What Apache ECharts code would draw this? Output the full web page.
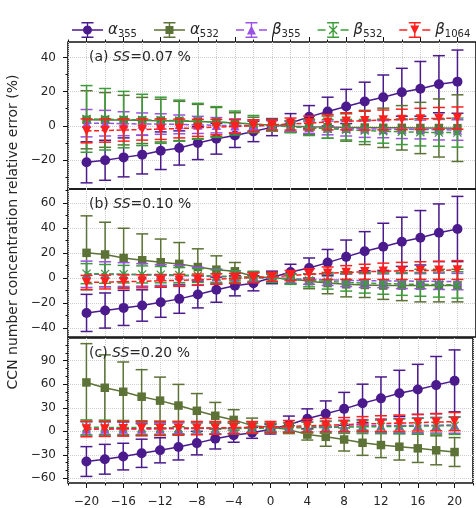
<!DOCTYPE html>
<html>
<head>
<meta charset="utf-8">
<script src="https://cdn.jsdelivr.net/npm/echarts@6/dist/echarts.min.js"></script>
<style>
html,body{margin:0;padding:0;background:#fff;}
#chart{width:476px;height:508px;}
</style>
</head>
<body>
<div id="chart"></div>
<script>
// x positions (shared by all panels)
var xVals = [-20,-18,-16,-14,-12,-10,-8,-6,-4,-2,0,2,4,6,8,10,12,14,16,18,20];
var xMajor = [-20,-16,-12,-8,-4,0,4,8,12,16,20];

// (a) SS=0.07 %
var a355_a   = [-21.4,-20.2,-18.5,-16.9,-14.6,-13.0,-10.1,-7.6,-5.7,-3.3,-0.8,1.6,5.2,8.3,11.3,14.2,16.7,19.6,21.6,24.3,25.8];
var a355_a_e = [12,11.7,11.4,11.3,11,10,9.7,9,7,6,5,5.5,6.6,8.4,10,11.3,13,14,16,16.7,18.5];
var a532_a   = [3.5,3.4,3.3,3.1,3,2.8,2.5,2.2,1.6,1,0.3,-0.3,-0.6,-0.8,-1,-1,-1.2,-1.2,-1.3,-1.3,-1.4];
var a532_a_e = [17,16,14.5,13.5,12.5,11.5,10,8.5,6,4,3,3,4.5,6.5,8,10,11.5,13,15,17,19.5];
var b355_a   = [1.5,1.5,1.2,1,1,0.8,0.5,0.3,0,0,0,-0.5,-1,-1.3,-1.5,-1.8,-2,-2,-2.2,-2.3,-2.5];
var b355_a_e = [8,7.5,7,6.5,6,5.5,5,4.5,4,3.5,3,3,3.5,4,4.5,5,5,5.5,5.5,6,6];
var b532_a   = [4,3.8,3.6,3.4,3.2,3,2.6,2.2,1.6,1,0.3,-0.5,-1.2,-1.8,-2.3,-2.8,-3.2,-3.5,-3.8,-4,-4];
var b532_a_e = [19.5,18,16.5,15,13.5,12,10.5,9,7,5,3.5,3.5,4.5,5.5,6,6.5,7,7.5,8,8,8.5];
var b1064_a   = [-3,-2.8,-2.5,-2.2,-2,-1.6,-1.2,-0.8,-0.4,0,0.5,1,1.6,2.1,2.6,3,3.4,3.7,4,4.3,4.5];
var b1064_a_e = [7,6.8,6.5,6.2,6,5.5,5,4.5,4,3.5,3,3.5,4,4.5,5,5.5,5.8,6,6.2,6.4,6.5];

// (b) SS=0.10 %
var a355_b   = [-27.8,-25.9,-23.8,-21.9,-19.3,-16.6,-13.1,-9.3,-6.2,-4.2,0.5,4.8,8.0,12.3,16.9,21.4,24.9,28.9,32.1,36.1,39.1];
var a355_b_e = [14.8,14,14,12.5,12,11.5,10.7,10,8,6,5,6.2,8,10.5,13.4,15.6,18.8,19.6,21.7,23,26];
var a532_b   = [20.1,18.8,16,14.2,12.6,11.3,8.8,6.7,5.4,1.4,0,-0.5,-2.5,-4,-5,-5.5,-6,-6,-6,-6,-6];
var a532_b_e = [29.5,25.7,23.7,21,18.5,17,14.5,11,7,4,3,4,6,8.5,10,10,11,12,13,13,13];
var b355_b   = [3,3,2.8,2.5,2.2,2,1.6,1.2,0.8,0.4,0,-0.5,-1,-1.4,-1.8,-2,-2.2,-2.4,-2.5,-2.6,-2.8];
var b355_b_e = [10.5,10,9.5,9,8.5,8,7,6,5,4,3,3.5,4,4.5,5,5.5,5.5,6,6,6.5,6.5];
var b532_b   = [3.5,3.3,3.1,2.9,2.7,2.4,2,1.6,1.2,0.6,0,-1,-2,-2.8,-3.4,-4,-4.4,-4.8,-5,-5.2,-5.5];
var b532_b_e = [8,7.5,7,6.8,6.5,6,5.5,5,4.5,4,3.5,4,5,6,7,8,8.5,9,9.5,10,10.5];
var b1064_b   = [-3.5,-3.2,-2.9,-2.6,-2.2,-1.8,-1.3,-0.8,-0.3,0.3,1,2,3,3.8,4.4,5,5.4,5.7,6,6.2,6.4];
var b1064_b_e = [5.6,5.5,5.4,5.2,5,4.8,4.5,4.2,4,3.8,3.5,4,4.5,5,5.5,6,6.5,6.8,7,7.2,7.5];

// (c) SS=0.20 %
var a355_c   = [-38.6,-35.7,-32.3,-28.1,-24.3,-20.1,-15.1,-9.6,-5.0,-2.0,2.5,8.4,16,22.3,28.6,35.7,42,48.4,53.4,58.9,64.3];
var a355_c_e = [19,19,17,18,16,16.5,15,13,9,7,6,11,12.6,16.4,21,24.4,27.3,29.4,32,36.5,39.5];
var a532_c   = [62.3,55.5,50.4,44.1,39.1,32.8,26.1,19.8,14.5,7.2,5,2.1,-4.2,-7.1,-10.5,-14.7,-17.6,-19.7,-21.8,-24.3,-26.5];
var a532_c_e = [49.5,42,38,34.5,30,27,22,17,13,9.6,5,5,7,12,14.7,16,16,17,18,18.5,18.4];
var b355_c   = [3,3,3,3,3,3.2,3.4,3.6,3.8,4,4.5,5,5.5,6,6.5,7,7.2,7.4,7.6,7.8,8];
var b355_c_e = [9,8.8,8.5,8.2,8,7.6,7.2,6.8,6.4,6,5.5,6,6.5,7,7.5,8,8.5,9,9.5,10,10.5];
var b532_c   = [5,5,4.8,4.6,4.4,4.2,4,3.8,3.6,3.8,4,4.3,4.6,5,5.3,5.6,5.9,6.2,6.5,6.8,7];
var b532_c_e = [9.5,9.2,9,8.8,8.5,8.2,7.8,7.4,7,6.5,6,6.5,7,7.5,8,8.5,9,9.5,10,10.5,11];
var b1064_c   = [2.8,3,3.2,3.4,3.6,3.8,4,4.3,4.6,5,5.5,6.2,7,7.8,8.5,9.2,9.8,10.4,11,11.6,12.4];
var b1064_c_e = [9.8,9.6,9.4,9.2,9,8.8,8.5,8.2,7.8,7.4,7,7.5,8,8.5,9,9.5,10,10.3,10.6,11,11.5];

// y tick values per panel
var yMajor_a = [-20,0,20,40];
var yMinor_a = [-30,-10,10,30];
var yMajor_b = [-40,-20,0,20,40,60];
var yMinor_b = [-30,-10,10,30,50,70];
var yMajor_c = [-60,-30,0,30,60,90];
var yMinor_c = [-50,-40,-20,-10,10,20,40,50,70,80,100,110];

var FONT = 'DejaVu Sans';
var TXT = '#262626';
var GRIDC = '#cfcfcf';

var meta = [
	{name: 'a355',  color: '#4b1a8c', symbol: 'circle', size: 10, rot: 0, dash: false, sub: '355', g: 'α'},
	{name: 'a532',  color: '#5c7236', symbol: 'rect', size: 8.5, rot: 0, dash: false, sub: '532', g: 'α'},
	{name: 'b355',  color: '#9b50e6', symbol: 'triangle', size: 9.5, rot: 0, dash: true, sub: '355', g: 'β'},
	{name: 'b532',  color: '#3c9c3c', symbol: 'path://M0,1L1,0L5,4L9,0L10,1L6,5L10,9L9,10L5,6L1,10L0,9L4,5Z', size: 9, rot: 0, dash: true, sub: '532', g: 'β'},
	{name: 'b1064', color: '#ff1f1f', symbol: 'triangle', size: 9.5, rot: 180, dash: true, sub: '1064', g: 'β'}
];

// legend icons: line + error bar + marker, in a 31x16 box
var lineSolid = 'M0,7.3h31v1.4h-31Z';
var lineDash = 'M0,7.3h8v1.4h-8Z M23,7.3h8v1.4h-8Z';
var errBar = 'M14.8,0.7h1.4v14.6h-1.4Z M9.5,0h12v1.4h-12Z M9.5,14.6h12v1.4h-12Z';
var mk = {
	a355: 'M11,8a4.5,4.5 0 1,1 9,0a4.5,4.5 0 1,1 -9,0Z',
	a532: 'M11.5,4h8v8h-8Z',
	b355: 'M15.5,3.5L20,12.5H11Z',
	b532: 'M11,4.4L11.9,3.5L15.5,7.1L19.1,3.5L20,4.4L16.4,8L20,11.6L19.1,12.5L15.5,8.9L11.9,12.5L11,11.6L14.6,8Z',
	b1064: 'M11,3.5H20L15.5,12.5Z'
};

var panels = [
	{label: '0.07', top: 42, height: 147, min: -37, max: 49, major: yMajor_a, minor: yMinor_a,
	 data: [[a355_a, a355_a_e], [a532_a, a532_a_e], [b355_a, b355_a_e], [b532_a, b532_a_e], [b1064_a, b1064_a_e]]},
	{label: '0.10', top: 189, height: 148, min: -47, max: 71, major: yMajor_b, minor: yMinor_b,
	 data: [[a355_b, a355_b_e], [a532_b, a532_b_e], [b355_b, b355_b_e], [b532_b, b532_b_e], [b1064_b, b1064_b_e]]},
	{label: '0.20', top: 338, height: 147, min: -66, max: 119, major: yMajor_c, minor: yMinor_c,
	 data: [[a355_c, a355_c_e], [a532_c, a532_c_e], [b355_c, b355_c_e], [b532_c, b532_c_e], [b1064_c, b1064_c_e]]}
];

function minus(v) {
	return String(v).replace('-', '\u2212');
}

function renderErr(params, api) {
	var x = api.value(0);
	var p1 = api.coord([x, api.value(1)]);
	var p2 = api.coord([x, api.value(2)]);
	var c = api.visual('color');
	var w = 6;
	var st = {stroke: c, lineWidth: 1.5};
	return {
		type: 'group',
		children: [
			{type: 'line', shape: {x1: p1[0], y1: p1[1], x2: p2[0], y2: p2[1]}, style: st},
			{type: 'line', shape: {x1: p1[0] - w, y1: p1[1], x2: p1[0] + w, y2: p1[1]}, style: st},
			{type: 'line', shape: {x1: p2[0] - w, y1: p2[1], x2: p2[0] + w, y2: p2[1]}, style: st}
		]
	};
}

var grids = [], xAxes = [], yAxes = [], series = [], graphics = [];
var noLine = {show: false, onZero: false};

panels.forEach(function (p, i) {
	grids.push({left: 68, width: 416, top: p.top, height: p.height, show: true,
		borderColor: '#111', borderWidth: 1.6, backgroundColor: 'transparent'});

	xAxes.push({
		gridIndex: i, type: 'value', min: -22, max: 22, interval: 2, position: 'bottom',
		axisLine: noLine,
		axisTick: {show: i === 2, length: 2.5, lineStyle: {color: '#111', width: 1}},
		axisLabel: {show: i === 2, margin: 13, fontFamily: FONT, fontSize: 12, color: TXT,
			formatter: function (v) { return v % 4 === 0 ? minus(v) : ''; }},
		splitLine: {show: true, lineStyle: {color: GRIDC, type: 'dotted', width: 1}}
	});

	yAxes.push({
		gridIndex: i, type: 'value', min: p.min, max: p.max, position: 'left',
		axisLine: noLine,
		axisTick: {show: true, length: 5, customValues: p.major, lineStyle: {color: '#111', width: 1}},
		axisLabel: {show: true, margin: 12, fontFamily: FONT, fontSize: 12, color: TXT,
			customValues: p.major, formatter: minus},
		splitLine: {show: true, lineStyle: {color: GRIDC, type: 'dotted', width: 1}}
	});

	graphics.push({
		type: 'text', x: 89, y: p.top + 15,
		style: {
			text: '{n|(' + 'abc'[i] + ') }{i|SS}{n|=' + p.label + ' %}',
			verticalAlign: 'middle', align: 'left',
			rich: {
				n: {fontFamily: FONT, fontSize: 14, fill: TXT},
				i: {fontFamily: FONT, fontSize: 14, fontStyle: 'italic', fill: TXT}
			}
		},
		z: 100
	});
});

// overlay axes for major ticks at the bottom and the ticks on top
xAxes.push({gridIndex: 2, type: 'value', min: -22, max: 22, position: 'bottom',
	axisLine: noLine, axisLabel: {show: false}, splitLine: {show: false},
	axisTick: {show: true, length: 5, customValues: xMajor, lineStyle: {color: '#111', width: 1}}});
xAxes.push({gridIndex: 0, type: 'value', min: -22, max: 22, interval: 2, position: 'top',
	axisLine: noLine, axisLabel: {show: false}, splitLine: {show: false},
	axisTick: {show: true, length: 2.5, lineStyle: {color: '#111', width: 1}}});
xAxes.push({gridIndex: 0, type: 'value', min: -22, max: 22, position: 'top',
	axisLine: noLine, axisLabel: {show: false}, splitLine: {show: false},
	axisTick: {show: true, length: 5, customValues: xMajor, lineStyle: {color: '#111', width: 1}}});

// minor y ticks
panels.forEach(function (p, i) {
	yAxes.push({gridIndex: i, type: 'value', min: p.min, max: p.max, position: 'left',
		axisLine: noLine, axisLabel: {show: false}, splitLine: {show: false},
		axisTick: {show: true, length: 2.5, customValues: p.minor, lineStyle: {color: '#111', width: 1}}});
});

panels.forEach(function (p, i) {
	meta.forEach(function (m, k) {
		var mean = p.data[k][0], err = p.data[k][1];
		var pts = [], bars = [];
		for (var j = 0; j < xVals.length; j++) {
			pts.push([xVals[j], mean[j]]);
			bars.push([xVals[j], mean[j] - err[j], mean[j] + err[j]]);
		}
		series.push({
			name: m.name + '_err', type: 'custom', xAxisIndex: i, yAxisIndex: i,
			renderItem: renderErr, data: bars, encode: {x: 0, y: [1, 2]},
			itemStyle: {color: m.color}, z: 2 + 2 * k, silent: true
		});
		series.push({
			name: m.name, type: 'line', xAxisIndex: i, yAxisIndex: i, data: pts,
			symbol: m.symbol, symbolSize: m.size, symbolRotate: m.rot,
			itemStyle: {color: m.color, borderWidth: 0},
			lineStyle: {color: m.color, width: 1.5, type: m.dash ? [5, 2.5] : 'solid'},
			z: 3 + 2 * k, silent: true, animation: false
		});
	});
});

graphics.push({
	type: 'text', x: 13, y: 232, rotation: Math.PI / 2,
	style: {text: 'CCN number concentration relative error (%)', fontFamily: FONT, fontSize: 14,
		fill: TXT, align: 'center', verticalAlign: 'middle'}
});

var myChart = echarts.init(document.getElementById('chart'));
var option = {
	animation: false,
	backgroundColor: '#fff',
	legend: {
		left: 67, top: 17, width: 700, itemWidth: 31, itemHeight: 16, itemGap: 17, selectedMode: false,
		data: meta.map(function (m) {
			return {name: m.name, icon: 'path://' + (m.dash ? lineDash : lineSolid) + ' ' + errBar + ' ' + mk[m.name]};
		}),
		itemStyle: {borderWidth: 0},
		formatter: function (name) {
			var m = meta.filter(function (d) { return d.name === name; })[0];
			return '{g|' + m.g + '}{s|' + m.sub + '}';
		},
		textStyle: {
			width: 30,
			rich: {
				g: {fontFamily: FONT, fontStyle: 'italic', fontSize: 15, color: TXT, lineHeight: 18},
				s: {fontFamily: FONT, fontSize: 10, color: TXT, lineHeight: 18, verticalAlign: 'bottom'}
			}
		}
	},
	grid: grids,
	xAxis: xAxes,
	yAxis: yAxes,
	graphic: graphics,
	series: series
};
myChart.setOption(option);
</script>
</body>
</html>
